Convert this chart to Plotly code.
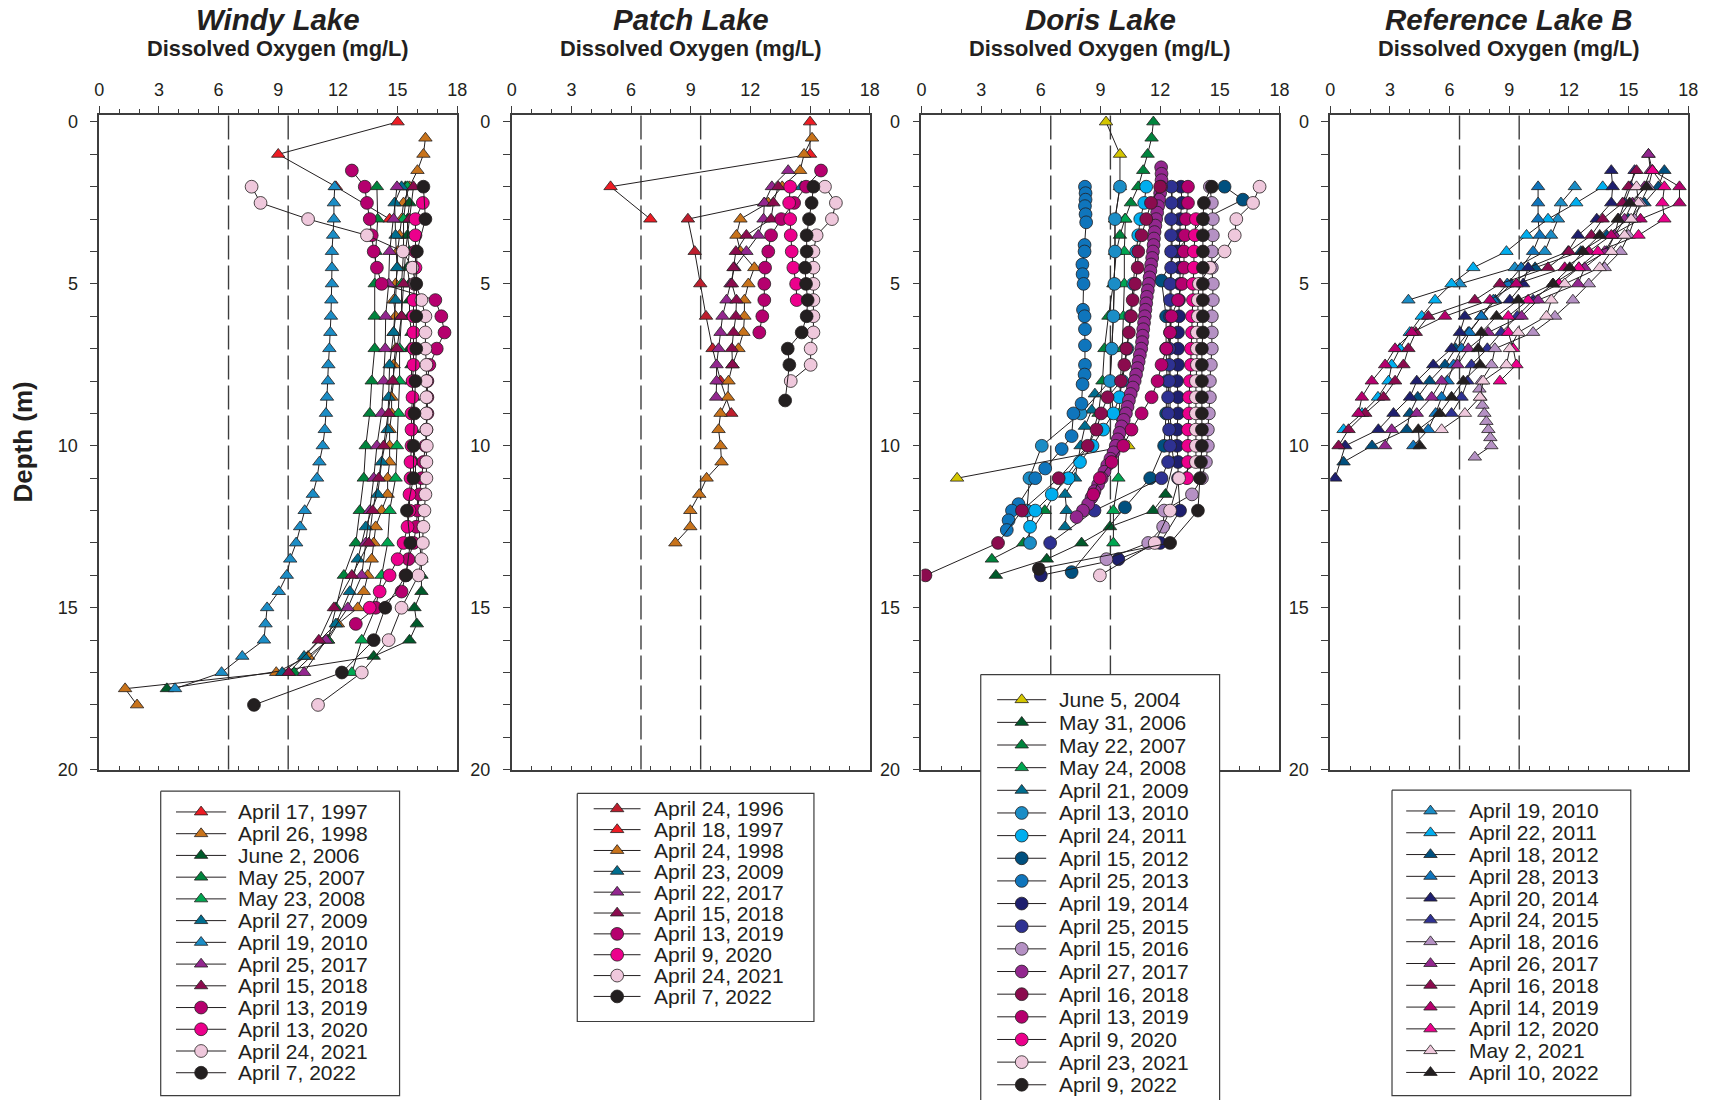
import plotly.graph_objects as go

# ----------------------------------------------------------------------
# Dissolved-oxygen winter profiles (depth in m, DO in mg/L)
# ----------------------------------------------------------------------

# ---------------- Windy Lake ----------------
windy_labels = ["April 17, 1997", "April 26, 1998", "June 2, 2006", "May 25, 2007",
                "May 23, 2008", "April 27, 2009", "April 19, 2010", "April 25, 2017",
                "April 15, 2018", "April 13, 2019", "April 13, 2020", "April 24, 2021",
                "April 7, 2022"]

windy_depth_1997 = [0, 1, 2, 3]
windy_do_1997 = [15.0, 9.0, 11.9, 14.6]

windy_depth_1998 = [0.5, 1, 1.5, 2, 2.5, 3, 3.5, 4, 4.5, 5, 5.5, 6, 6.5, 7, 7.5, 8, 8.5, 9,
                    9.5, 10, 10.5, 11, 11.5, 12, 12.5, 13, 13.5, 14, 14.5, 15, 15.5, 16,
                    16.5, 17, 17.5, 18]
windy_do_1998 = [16.4, 16.3, 16.0, 15.6, 15.3, 15.2, 15.1, 15.0, 15.0, 14.9, 14.8, 14.9,
                 14.8, 14.9, 14.8, 14.8, 14.7, 14.7, 14.6, 14.6, 14.6, 14.5, 14.5, 14.2,
                 13.9, 13.8, 13.7, 13.5, 13.3, 13.0, 12.0, 11.5, 10.5, 8.9, 1.3, 1.9]

windy_depth_2006 = [2, 2.5, 3, 3.5, 4, 4.5, 5, 5.5, 6, 6.5, 7, 7.5, 8, 8.5, 9, 9.5, 10,
                    10.5, 11, 11.5, 12, 12.5, 13, 13.5, 14, 14.5, 15, 15.5, 16, 16.5, 17.5]
windy_do_2006 = [15.4, 15.6, 15.5, 15.5, 15.6, 15.5, 15.6, 15.6, 15.6, 15.7, 15.6, 15.7,
                 15.7, 15.8, 15.8, 15.8, 15.8, 15.9, 15.9, 16.0, 16.0, 16.1, 16.1, 16.2,
                 16.2, 16.2, 15.85, 15.97, 15.6, 13.8, 3.4]

windy_depth_2007 = [2, 3, 4, 5, 6, 7, 8, 9, 10, 11, 12, 13, 14, 15, 16, 17]
windy_do_2007 = [13.96, 14.0, 13.9, 13.85, 13.85, 13.85, 13.7, 13.6, 13.4, 13.3, 13.1,
                 12.9, 12.3, 11.9, 11.5, 9.8]

windy_depth_2008 = [2, 3, 4, 5, 6, 7, 8, 9, 10, 11, 12, 13, 14, 15, 16, 17]
windy_do_2008 = [15.5, 15.3, 15.3, 15.2, 15.2, 15.1, 15.1, 15.05, 14.97, 14.9, 14.6, 14.5,
                 14.2, 13.9, 13.2, 12.7]

windy_depth_2009 = [2, 2.5, 3.5, 4.5, 5.5, 6.5, 7.5, 8.5, 9.5, 10.5, 11.5, 12.5, 13.5,
                    14.5, 15.5, 16.5, 17]
windy_do_2009 = [15.2, 14.85, 14.9, 14.97, 14.9, 14.8, 14.6, 14.55, 14.5, 14.2, 14.0, 13.4,
                 13.0, 12.6, 11.9, 10.3, 9.2]

windy_depth_2010 = [2, 2.5, 3, 3.5, 4, 4.5, 5, 5.5, 6, 6.5, 7, 7.5, 8, 8.5, 9, 9.5, 10,
                    10.5, 11, 11.5, 12, 12.5, 13, 13.5, 14, 14.5, 15, 15.5, 16, 16.5, 17,
                    17.5]
windy_do_2010 = [11.84, 11.8, 11.8, 11.76, 11.7, 11.7, 11.7, 11.67, 11.65, 11.62, 11.57,
                 11.52, 11.5, 11.45, 11.4, 11.34, 11.24, 11.07, 10.95, 10.74, 10.33, 10.1,
                 9.9, 9.6, 9.43, 9.03, 8.44, 8.36, 8.28, 7.19, 6.15, 3.81]

windy_depth_2017 = [2, 3, 4, 5, 6, 7, 8, 9, 10, 11, 12, 13, 14, 15, 16, 17]
windy_do_2017 = [14.97, 14.8, 14.6, 14.55, 14.4, 14.38, 14.3, 14.2, 13.96, 13.8, 13.6, 13.4,
                 13.2, 12.5, 11.4, 10.3]

windy_depth_2018 = [2, 3, 4, 5, 6, 7, 8, 9, 10, 11, 12, 13, 14, 15, 16, 17]
windy_do_2018 = [15.8, 15.6, 15.4, 15.3, 15.2, 14.97, 14.75, 14.55, 14.3, 14.05, 13.75,
                 13.55, 12.7, 11.8, 11.04, 9.53]

windy_depth_2019 = [1.5, 2, 2.5, 3, 3.5, 4, 4.5, 5, 5.5, 6, 6.5, 7, 7.5, 8, 8.5, 9, 9.5,
                    10, 10.5, 11, 11.5, 12, 12.5, 13, 13.5, 14, 14.5, 15, 15.5]
windy_do_2019 = [12.7, 13.35, 13.46, 13.6, 13.7, 13.8, 13.96, 14.2, 16.9, 17.2, 17.36,
                 16.97, 16.6, 16.5, 16.5, 16.5, 16.45, 16.4, 16.3, 16.2, 16.1, 16.0, 15.94,
                 15.8, 15.55, 15.4, 15.2, 13.9, 12.9]

windy_depth_2020 = [2.5, 3, 3.5, 4, 4.5, 5, 5.5, 6, 6.5, 7, 7.5, 8, 8.5, 9, 9.5, 10, 10.5,
                    11, 11.5, 12, 12.5, 13, 13.5, 14, 14.5, 15]
windy_do_2020 = [16.27, 15.9, 15.9, 15.9, 15.9, 15.85, 15.8, 15.8, 15.8, 15.8, 15.8, 15.75,
                 15.75, 15.7, 15.7, 15.7, 15.65, 15.65, 15.6, 15.6, 15.5, 15.3, 15.0, 14.6,
                 14.1, 13.6]

windy_depth_2021 = [2, 2.5, 3, 3.5, 4, 4.5, 5, 5.5, 6, 6.5, 7, 7.5, 8, 8.5, 9, 9.5, 10,
                    10.5, 11, 11.5, 12, 12.5, 13, 13.5, 14, 15, 16, 17, 18]
windy_do_2021 = [7.66, 8.11, 10.5, 13.46, 15.27, 15.75, 15.9, 16.2, 16.4, 16.4, 16.4,
                 16.45, 16.45, 16.45, 16.45, 16.45, 16.47, 16.45, 16.45, 16.4, 16.35, 16.3,
                 16.27, 16.2, 16.05, 15.2, 14.55, 13.2, 11.0]

windy_depth_2022 = [2, 3, 4, 5, 6, 7, 8, 9, 10, 11, 12, 13, 14, 15, 16, 17, 18]
windy_do_2022 = [16.3, 16.4, 15.97, 15.94, 15.94, 15.94, 15.9, 15.85, 15.8, 15.8, 15.47,
                 15.64, 15.43, 14.38, 13.8, 12.2, 7.78]

# ---------------- Patch Lake ----------------
patch_labels = ["April 24, 1996", "April 18, 1997", "April 24, 1998", "April 23, 2009",
                "April 22, 2017", "April 15, 2018", "April 13, 2019", "April 9, 2020",
                "April 24, 2021", "April 7, 2022"]

patch_depth_1996 = [2.5, 3, 4, 5, 6, 7, 8, 9]
patch_do_1996 = [12.7, 8.86, 9.2, 9.48, 9.77, 10.1, 10.5, 11.04]

patch_depth_1997 = [0, 1, 2, 3]
patch_do_1997 = [15.0, 15.0, 4.97, 6.97]

patch_depth_1998 = [0.5, 1, 1.5, 2, 2.5, 3, 3.5, 4, 4.5, 5, 5.5, 6, 6.5, 7, 7.5, 8, 8.5, 9,
                    9.5, 10, 10.5, 11, 11.5, 12, 12.5, 13]
patch_do_1998 = [15.1, 14.7, 14.5, 13.6, 12.9, 11.5, 11.3, 11.5, 12.2, 11.9, 11.7, 11.7,
                 11.65, 11.4, 11.1, 10.9, 10.87, 10.5, 10.4, 10.5, 10.55, 9.8, 9.43, 8.98,
                 8.98, 8.23]

patch_depth_2009 = [2]
patch_do_2009 = [14.58]

patch_depth_2017 = [1.5, 2, 2.5, 3, 3.5, 4, 4.5, 5, 5.5, 6, 6.5, 7, 7.5, 8, 8.5]
patch_do_2017 = [13.9, 13.08, 12.7, 12.66, 12.4, 11.8, 11.2, 11.0, 10.8, 10.6, 10.5, 10.4,
                 10.3, 10.3, 10.28]

patch_depth_2018 = [2, 2.5, 3, 3.5, 4, 4.5, 5, 5.5, 6, 6.5, 7, 7.5]
patch_do_2018 = [13.4, 13.16, 13.04, 11.8, 11.27, 11.15, 11.07, 11.3, 11.27, 11.15, 11.07,
                 11.1]

patch_depth_2019 = [1.5, 2, 2.5, 3, 3.5, 4, 4.5, 5, 5.5, 6, 6.5]
patch_do_2019 = [15.55, 14.8, 14.2, 13.55, 13.04, 12.9, 12.74, 12.7, 12.7, 12.6, 12.45]

patch_depth_2020 = [2, 2.5, 3, 3.5, 4, 4.5, 5, 5.5]
patch_do_2020 = [14.0, 13.95, 14.0, 14.03, 14.08, 14.16, 14.3, 14.33]

patch_depth_2021 = [2, 2.5, 3, 3.5, 4, 4.5, 5, 5.5, 6, 6.5, 7, 7.5, 8]
patch_do_2021 = [15.75, 16.3, 16.1, 15.33, 15.17, 15.17, 15.17, 15.17, 15.17, 15.17, 15.03,
                 15.03, 14.03]

patch_depth_2022 = [2, 2.5, 3, 3.5, 4, 4.5, 5, 5.5, 6, 6.5, 7, 7.5, 8.6]
patch_do_2022 = [15.17, 15.08, 14.95, 14.83, 14.83, 14.75, 14.8, 14.88, 14.83, 14.58, 13.88,
                 13.96, 13.75]

# ---------------- Doris Lake ----------------
doris_labels = ["June 5, 2004", "May 31, 2006", "May 22, 2007", "May 24, 2008",
                "April 21, 2009", "April 13, 2010", "April 24, 2011", "April 15, 2012",
                "April 25, 2013", "April 19, 2014", "April 25, 2015", "April 15, 2016",
                "April 27, 2017", "April 16, 2018", "April 13, 2019", "April 9, 2020",
                "April 23, 2021", "April 9, 2022"]

doris_depth_2004 = [0, 1, 2, 3, 4, 5, 6, 7, 8, 9, 10, 11]
doris_do_2004 = [9.28, 9.98, 9.98, 9.73, 9.73, 9.7, 9.65, 9.57, 9.48, 9.65, 10.4, 1.79]

doris_depth_2006 = [2, 3, 4, 5, 6, 7, 8, 9, 10, 10.5, 11.5, 12, 12.5, 13, 13.5, 14]
doris_do_2006 = [12.6, 12.6, 12.6, 12.55, 12.55, 12.5, 12.5, 12.5, 12.6, 12.67, 12.27,
                 11.65, 9.48, 8.05, 6.3, 3.74]

doris_depth_2007 = [0, 0.5, 1, 1.5, 2, 2.5, 3, 3.5, 4, 5, 6, 7, 8, 9, 10, 11, 12, 13, 13.5]
doris_do_2007 = [11.66, 11.57, 11.37, 11.15, 10.9, 10.53, 10.23, 9.98, 9.8, 9.65, 9.4, 9.2,
                 9.1, 8.9, 8.4, 7.2, 6.2, 5.13, 3.54]

doris_depth_2008 = [3, 4, 5, 6, 7, 8, 9, 10, 11, 12, 13]
doris_do_2008 = [10.25, 10.2, 10.2, 10.15, 10.1, 10.0, 9.95, 9.9, 9.9, 9.65, 9.65]

doris_depth_2009 = [8.4, 8.9, 9.4, 10, 11, 11.5, 12, 12.5]
doris_do_2009 = [8.72, 8.56, 8.22, 8.0, 7.72, 7.22, 7.3, 7.22]

doris_depth_2010 = [2, 3, 4, 5, 6, 7, 8, 9, 10, 11, 12, 13]
doris_do_2010 = [9.98, 9.73, 9.73, 9.7, 9.65, 9.57, 9.48, 8.0, 6.05, 5.43, 5.3, 5.46]

doris_depth_2011 = [2, 2.5, 3, 3.5, 4, 5, 6, 7, 8, 8.5, 9, 9.5, 10, 10.5, 11, 11.5, 12,
                    12.5]
doris_do_2011 = [11.3, 11.2, 11.0, 10.9, 10.8, 10.65, 10.5, 10.35, 10.1, 9.95, 9.65, 9.14,
                 8.6, 7.97, 7.39, 6.55, 5.72, 5.46]

doris_depth_2012 = [2, 2.4, 3, 4, 4.9, 6, 7, 8, 9, 10, 11, 11.9, 13.9]
doris_do_2012 = [15.24, 16.16, 14.2, 12.8, 12.07, 12.3, 12.3, 12.35, 12.3, 12.2, 11.5,
                 10.23, 7.55]

doris_depth_2013 = [2.0, 2.2, 2.4, 2.6, 2.85, 3.1, 3.8, 4.0, 4.4, 4.7, 5.0, 5.8, 6.0, 6.4,
                    6.9, 7.5, 7.8, 8.1, 8.7, 9.0, 9.7, 10.1, 10.7, 11.0, 11.8, 12.0, 12.3,
                    12.6]
doris_do_2013 = [8.22, 8.25, 8.25, 8.22, 8.25, 8.28, 8.2, 8.2, 8.09, 8.1, 8.15, 8.12, 8.2,
                 8.22, 8.22, 8.22, 8.2, 8.1, 8.05, 7.64, 7.55, 7.05, 6.22, 5.72, 4.88, 4.55,
                 4.38, 4.29]

doris_depth_2014 = [2, 2.5, 3, 3.5, 4, 4.5, 5, 5.5, 6, 6.5, 7, 7.5, 8, 8.5, 9, 9.5, 10,
                    10.5, 11, 12, 13, 13.5, 14]
doris_do_2014 = [13.05, 13.1, 13.0, 13.0, 12.95, 13.0, 13.0, 12.95, 12.95, 12.9, 12.9,
                 12.9, 12.85, 12.9, 12.9, 12.85, 12.85, 12.9, 12.9, 13.0, 12.0, 9.9, 6.0]

doris_depth_2015 = [2, 2.5, 3, 3.5, 4, 4.5, 5, 5.5, 6, 6.5, 7, 7.5, 8, 8.5, 9, 9.5, 10,
                    10.5, 11, 12, 13]
doris_do_2015 = [12.57, 12.57, 12.55, 12.55, 12.55, 12.55, 12.5, 12.5, 12.5, 12.5, 12.45,
                 12.45, 12.45, 12.4, 12.4, 12.45, 12.5, 12.4, 12.07, 8.7, 6.47]

doris_depth_2016 = [2, 2.5, 3, 3.5, 4, 4.5, 5, 5.5, 6, 6.5, 7, 7.5, 8, 8.5, 9, 9.5, 10,
                    10.5, 11, 11.5, 12, 12.5, 13, 13.5]
doris_do_2016 = [14.5, 14.6, 14.65, 14.65, 14.6, 14.6, 14.65, 14.65, 14.6, 14.6, 14.6,
                 14.55, 14.5, 14.5, 14.45, 14.4, 14.4, 14.3, 14.1, 13.6, 12.2, 12.15, 11.4,
                 9.3]

doris_depth_2017 = [1.4, 1.6, 1.8, 2.0, 2.2, 2.4, 2.6, 2.8, 3.0, 3.2, 3.4, 3.6, 3.8, 4.0,
                    4.2, 4.4, 4.6, 4.8, 5.0, 5.2, 5.4, 5.6, 5.8, 6.0, 6.2, 6.4, 6.6, 6.8,
                    7.0, 7.2, 7.4, 7.6, 7.8, 8.0, 8.2, 8.4, 8.6, 8.8, 9.0, 9.2, 9.4, 9.6,
                    9.8, 10.0, 10.2, 10.4, 10.6, 10.8, 11.0, 11.2, 11.4, 11.6, 11.8, 12.0,
                    12.2]
doris_do_2017 = [12.05, 12.07, 12.07, 12.05, 12.0, 11.95, 11.9, 11.85, 11.8, 11.76, 11.72,
                 11.69, 11.67, 11.64, 11.6, 11.55, 11.51, 11.47, 11.43, 11.38, 11.33, 11.3,
                 11.26, 11.23, 11.19, 11.15, 11.12, 11.09, 11.05, 10.98, 10.92, 10.86,
                 10.79, 10.72, 10.63, 10.52, 10.43, 10.36, 10.28, 10.17, 10.06, 9.96, 9.87,
                 9.77, 9.66, 9.5, 9.34, 9.2, 9.06, 8.88, 8.7, 8.55, 8.38, 8.12, 7.8]

doris_depth_2018 = [2, 2.5, 3, 3.5, 4, 4.5, 5, 5.5, 6, 6.5, 7, 7.5, 8, 8.5, 9, 9.5, 10,
                    11, 12, 13, 14]
doris_do_2018 = [12.0, 11.54, 11.3, 11.07, 10.9, 10.87, 10.74, 10.62, 10.54, 10.43, 10.3,
                 10.2, 10.03, 9.36, 9.03, 8.8, 8.36, 6.9, 5.05, 3.85, 0.2]

doris_depth_2019 = [2, 2.5, 3, 3.5, 4, 4.5, 5, 5.5, 6, 6.5, 7, 7.5, 8, 8.5, 9, 9.5, 10,
                    10.5, 11, 11.5]
doris_do_2019 = [13.4, 13.4, 13.3, 13.25, 13.2, 13.2, 13.1, 12.9, 12.57, 12.5, 12.32,
                 12.07, 11.87, 11.57, 11.07, 10.56, 10.15, 9.56, 8.97, 8.64]

doris_depth_2020 = [3, 3.5, 4, 4.5, 5, 5.5, 6, 6.5, 7, 7.5, 8, 8.5, 9, 9.5, 10, 10.5, 11]
doris_do_2020 = [13.8, 13.75, 13.7, 13.7, 13.65, 13.65, 13.6, 13.6, 13.55, 13.55, 13.5,
                 13.45, 13.45, 13.4, 13.4, 13.4, 13.35]

doris_depth_2021 = [2, 2.5, 3, 3.5, 4, 4.5, 5, 5.5, 6, 6.5, 7, 7.5, 8, 8.5, 9, 9.5, 10,
                    10.5, 11, 12, 13, 14]
doris_do_2021 = [17.0, 16.67, 15.83, 15.75, 15.24, 14.5, 13.95, 13.9, 13.9, 13.85, 13.85,
                 13.85, 13.8, 13.8, 13.8, 13.8, 13.8, 13.8, 12.95, 12.5, 11.73, 8.97]

doris_depth_2022 = [2, 2.5, 3, 3.5, 4, 4.5, 5, 5.5, 6, 6.5, 7, 7.5, 8, 8.5, 9, 9.5, 10,
                    10.5, 11, 12, 13, 13.8]
doris_do_2022 = [14.6, 14.2, 14.15, 14.15, 14.15, 14.15, 14.15, 14.15, 14.15, 14.15, 14.1,
                 14.1, 14.1, 14.1, 14.1, 14.1, 14.1, 14.05, 14.0, 13.9, 12.5, 5.9]

# ---------------- Reference Lake B ----------------
refb_labels = ["April 19, 2010", "April 22, 2011", "April 18, 2012", "April 28, 2013",
               "April 20, 2014", "April 24, 2015", "April 18, 2016", "April 26, 2017",
               "April 16, 2018", "April 14, 2019", "April 12, 2020", "May 2, 2021",
               "April 10, 2022"]

refb_depth_2010 = [2, 2.5, 3, 3.5, 4, 4.5, 5, 5.5]
refb_do_2010 = [12.3, 11.6, 11.45, 11.1, 10.79, 9.28, 6.52, 3.93]

refb_depth_2011 = [2, 2.5, 3, 3.5, 4, 4.5, 5, 5.5, 6, 6.5, 7, 7.5, 8, 8.5, 9, 9.5]
refb_do_2011 = [13.7, 12.37, 10.95, 9.87, 8.86, 7.19, 6.1, 5.27, 4.6, 4.0, 3.5, 3.09, 2.93,
                2.4, 1.6, 0.67]

refb_depth_2012 = [1.5, 2, 2.5, 3, 3.5, 4, 4.5, 5, 5.5, 6, 6.5, 7, 7.5, 8, 8.5, 9, 9.5, 10,
                   10.5]
refb_do_2012 = [16.8, 16.5, 15.8, 15.0, 13.9, 12.6, 10.3, 9.1, 8.3, 7.6, 6.94, 6.3, 5.77,
                5.0, 4.4, 4.0, 3.85, 2.1, 0.67]

refb_depth_2013 = [2, 2.5, 3, 3.5, 4, 4.5, 5, 5.5, 6, 6.5, 7, 7.5, 8, 8.5, 9, 9.5, 10]
refb_do_2013 = [10.45, 10.45, 10.45, 10.53, 10.2, 9.6, 8.9, 8.2, 7.6, 7.0, 6.6, 6.2, 5.9,
                5.6, 5.3, 4.93, 4.18]

refb_depth_2014 = [1.5, 2, 2.5, 3, 3.5, 4, 4.5, 5, 5.5, 6, 6.5, 7, 7.5, 8, 8.5, 9, 9.5, 10,
                   11]
refb_do_2014 = [14.13, 14.2, 14.13, 13.4, 12.46, 11.96, 9.95, 9.7, 9.03, 6.77, 6.52, 6.1,
                5.18, 4.35, 4.01, 3.18, 2.42, 0.75, 0.25]

refb_depth_2015 = [1.5, 2, 2.5, 3, 3.5, 4, 4.5, 5, 5.5, 6, 6.5, 7, 7.5, 8, 8.5, 9]
refb_do_2015 = [15.3, 15.1, 14.8, 14.5, 14.3, 13.9, 12.5, 11.2, 10.2, 9.4, 8.6, 7.9, 7.1,
                6.9, 6.6, 6.1]

refb_depth_2016 = [1, 1.5, 2, 2.5, 3, 3.5, 4, 4.5, 5, 5.5, 6, 6.5, 7, 7.5, 8, 8.25, 8.5,
                   8.75, 9, 9.25, 9.5, 9.75, 10, 10.35]
refb_do_2016 = [16.0, 16.2, 16.0, 15.6, 15.3, 15.0, 14.6, 13.8, 13.0, 12.2, 11.3, 10.2,
                8.28, 8.11, 7.6, 7.5, 7.55, 7.65, 7.75, 7.85, 7.95, 8.05, 8.1, 7.27]

refb_depth_2017 = [1, 1.5, 2, 2.5, 3, 3.5, 4, 4.5, 5, 5.5, 6, 6.5, 7, 7.5, 8, 8.5, 9, 9.5,
                   10]
refb_do_2017 = [16.0, 16.1, 15.8, 15.2, 14.8, 14.3, 13.8, 12.79, 12.46, 10.45, 9.62, 7.94,
                6.94, 6.4, 5.6, 5.1, 4.35, 3.09, 2.76]

refb_depth_2018 = [1.5, 2, 2.5, 3, 3.5, 4, 4.5, 5, 5.5, 6, 6.5, 7, 7.5, 8, 8.5, 9, 9.5, 10]
refb_do_2018 = [15.4, 15.0, 14.7, 13.7, 13.13, 12.0, 10.95, 8.53, 7.27, 4.93, 4.3, 3.93,
                3.68, 3.26, 2.68, 1.76, 0.92, 0.42]

refb_depth_2019 = [1.5, 2, 2.5, 3, 3.5, 4, 4.5, 5, 5.5, 6, 6.5, 7, 7.5, 8, 8.5, 9]
refb_do_2019 = [16.2, 17.56, 17.56, 15.6, 14.13, 13.0, 11.79, 9.36, 8.03, 5.77, 4.1, 3.26,
                2.76, 2.09, 1.59, 1.42]

refb_depth_2020 = [1.5, 2, 2.5, 3, 3.5, 4, 4.5, 5, 5.5, 6, 6.5, 7, 7.5, 8]
refb_do_2020 = [16.2, 16.8, 16.7, 16.8, 15.5, 13.46, 12.5, 11.5, 9.95, 8.95, 8.95, 9.2,
                9.36, 8.53]

refb_depth_2021 = [2, 2.5, 3, 3.5, 4, 4.5, 5, 5.5, 6, 6.5, 7, 7.5, 8, 8.5, 9, 9.5]
refb_do_2021 = [15.4, 15.5, 15.13, 14.8, 14.13, 13.55, 11.79, 11.12, 10.87, 9.45, 9.03,
                8.86, 7.69, 7.53, 6.77, 5.6]

refb_depth_2022 = [2, 2.5, 3, 3.5, 4, 4.5, 5, 5.5, 6, 6.5, 7, 7.5, 8, 8.5, 9, 9.5, 10]
refb_do_2022 = [15.9, 15.05, 14.46, 13.55, 12.7, 12.04, 11.2, 9.45, 8.36, 7.6, 7.44, 7.53,
                6.69, 6.1, 5.5, 4.43, 4.5]

# Water-quality guideline values drawn as dashed reference lines (mg/L)
do_guidelines = [6.5, 9.5]

# Axis ticks
x_ticks = [0, 3, 6, 9, 12, 15, 18]
y_ticks = [0, 5, 10, 15, 20]

# ----------------------------------------------------------------------
# Styling
# ----------------------------------------------------------------------
W, H = 1711, 1110
FONT = "Liberation Sans, Arial, Helvetica, sans-serif"
INK = "#231f20"
AXIS = "#3d3d3d"
TRI, DOT = "triangle-up", "circle"
MSIZE = {TRI: 11.7, DOT: 12.8}

COL = {
    "red96": "#be1e2d", "red97": "#ed1c24", "orange": "#c8731b", "yellow": "#d4c600",
    "dgreen": "#005a2b", "green": "#00843d", "lgreen": "#00a651", "teal": "#006e8f",
    "blue10": "#1b8dc6", "cyan": "#00aeef", "dblue": "#00507f", "blue13": "#0f75bc",
    "navy14": "#1e1f6e", "navy15": "#2e3192", "lav": "#b591c4", "purple": "#93278f",
    "maroon": "#8b0b4e", "magenta": "#b5006e", "pink": "#ec008c", "lpink": "#efc8dc",
    "black": "#231f20",
}

windy_style = [("red97", TRI), ("orange", TRI), ("dgreen", TRI), ("green", TRI),
               ("lgreen", TRI), ("teal", TRI), ("blue10", TRI), ("purple", TRI),
               ("maroon", TRI), ("magenta", DOT), ("pink", DOT), ("lpink", DOT),
               ("black", DOT)]
patch_style = [("red96", TRI), ("red97", TRI), ("orange", TRI), ("teal", TRI),
               ("purple", TRI), ("maroon", TRI), ("magenta", DOT), ("pink", DOT),
               ("lpink", DOT), ("black", DOT)]
doris_style = [("yellow", TRI), ("dgreen", TRI), ("green", TRI), ("lgreen", TRI),
               ("teal", TRI), ("blue10", DOT), ("cyan", DOT), ("dblue", DOT),
               ("blue13", DOT), ("navy14", DOT), ("navy15", DOT), ("lav", DOT),
               ("purple", DOT), ("maroon", DOT), ("magenta", DOT), ("pink", DOT),
               ("lpink", DOT), ("black", DOT)]
refb_style = [("blue10", TRI), ("cyan", TRI), ("dblue", TRI), ("blue13", TRI),
              ("navy14", TRI), ("navy15", TRI), ("lav", TRI), ("purple", TRI),
              ("maroon", TRI), ("magenta", TRI), ("pink", TRI), ("lpink", TRI),
              ("black", TRI)]

windy_profiles = [(windy_depth_1997, windy_do_1997), (windy_depth_1998, windy_do_1998),
                  (windy_depth_2006, windy_do_2006), (windy_depth_2007, windy_do_2007),
                  (windy_depth_2008, windy_do_2008), (windy_depth_2009, windy_do_2009),
                  (windy_depth_2010, windy_do_2010), (windy_depth_2017, windy_do_2017),
                  (windy_depth_2018, windy_do_2018), (windy_depth_2019, windy_do_2019),
                  (windy_depth_2020, windy_do_2020), (windy_depth_2021, windy_do_2021),
                  (windy_depth_2022, windy_do_2022)]
patch_profiles = [(patch_depth_1996, patch_do_1996), (patch_depth_1997, patch_do_1997),
                  (patch_depth_1998, patch_do_1998), (patch_depth_2009, patch_do_2009),
                  (patch_depth_2017, patch_do_2017), (patch_depth_2018, patch_do_2018),
                  (patch_depth_2019, patch_do_2019), (patch_depth_2020, patch_do_2020),
                  (patch_depth_2021, patch_do_2021), (patch_depth_2022, patch_do_2022)]
doris_profiles = [(doris_depth_2004, doris_do_2004), (doris_depth_2006, doris_do_2006),
                  (doris_depth_2007, doris_do_2007), (doris_depth_2008, doris_do_2008),
                  (doris_depth_2009, doris_do_2009), (doris_depth_2010, doris_do_2010),
                  (doris_depth_2011, doris_do_2011), (doris_depth_2012, doris_do_2012),
                  (doris_depth_2013, doris_do_2013), (doris_depth_2014, doris_do_2014),
                  (doris_depth_2015, doris_do_2015), (doris_depth_2016, doris_do_2016),
                  (doris_depth_2017, doris_do_2017), (doris_depth_2018, doris_do_2018),
                  (doris_depth_2019, doris_do_2019), (doris_depth_2020, doris_do_2020),
                  (doris_depth_2021, doris_do_2021), (doris_depth_2022, doris_do_2022)]
refb_profiles = [(refb_depth_2010, refb_do_2010), (refb_depth_2011, refb_do_2011),
                 (refb_depth_2012, refb_do_2012), (refb_depth_2013, refb_do_2013),
                 (refb_depth_2014, refb_do_2014), (refb_depth_2015, refb_do_2015),
                 (refb_depth_2016, refb_do_2016), (refb_depth_2017, refb_do_2017),
                 (refb_depth_2018, refb_do_2018), (refb_depth_2019, refb_do_2019),
                 (refb_depth_2020, refb_do_2020), (refb_depth_2021, refb_do_2021),
                 (refb_depth_2022, refb_do_2022)]

# Page layout in screen pixels.  The page is captured slightly scaled, so
# positions are mapped through a small affine correction before use.
SX, OX = 0.9918, 5.7
SY, OY = 0.9887, 2.5


def fig_x(t):
    return (t - OX) / SX


def fig_y(t):
    return (t - OY) / SY


def paper_x(t):
    return fig_x(t) / W


def paper_y(t):
    return 1 - fig_y(t) / H


PANEL_LEFT = [100, 512.7, 922.7, 1331.7]
PANEL_W = 358.2
PLOT_TOP, PLOT_BOTTOM = 115, 769.5

lakes = [
    dict(title="Windy Lake", labels=windy_labels, profiles=windy_profiles, style=windy_style,
         box=(161.5, 791, 400.5, 1095.6), row0=811.8, step=21.74,
         seg=(176.8, 227.0), mark=201.9, text=236.5),
    dict(title="Patch Lake", labels=patch_labels, profiles=patch_profiles, style=patch_style,
         box=(578.3, 793.3, 815.1, 1021.4), row0=808.6, step=20.86,
         seg=(594.7, 641.6), mark=618.2, text=653.3),
    dict(title="Doris Lake", labels=doris_labels, profiles=doris_profiles, style=doris_style,
         box=(982.0, 674.4, 1221.0, 1125.0), row0=699.5, step=22.66,
         seg=(998.4, 1047.5), mark=1023.0, text=1058.2),
    dict(title="Reference Lake B", labels=refb_labels, profiles=refb_profiles,
         style=refb_style, box=(1393.5, 790.0, 1632.4, 1095.6), row0=810.8, step=21.8,
         seg=(1407.7, 1456.8), mark=1432.0, text=1468.5),
]

fig = go.Figure()
annotations = []
shapes = []
layout_axes = {}

for i, lake in enumerate(lakes):
    n = i + 1
    sfx = "" if n == 1 else str(n)
    xa, ya = "x" + sfx, "y" + sfx
    left = PANEL_LEFT[i]

    # profiles
    for label, (depth, do), (ckey, sym) in zip(lake["labels"], lake["profiles"], lake["style"]):
        fig.add_trace(go.Scatter(
            x=do, y=depth, xaxis=xa, yaxis=ya, mode="lines+markers", name=label,
            line=dict(color=INK, width=1),
            marker=dict(symbol=sym, size=MSIZE[sym], color=COL[ckey], opacity=1,
                        line=dict(color=INK, width=0.8)),
            showlegend=False, hoverinfo="x+y+name"))

    # inward minor ticks along the bottom edge
    fig.add_trace(go.Scatter(x=[None], y=[None], xaxis="x" + str(n + 4), yaxis=ya,
                             showlegend=False, hoverinfo="skip"))

    # dashed guideline lines
    for g in do_guidelines:
        shapes.append(dict(type="line", xref=xa, yref=ya + " domain", x0=g, x1=g, y0=1, y1=0,
                           line=dict(color=AXIS, width=1.4, dash="24px,6px"), layer="below"))

    dom_x = [paper_x(left), paper_x(left + PANEL_W)]
    dom_y = [paper_y(PLOT_BOTTOM), paper_y(PLOT_TOP)]
    layout_axes["xaxis" + sfx] = dict(
        domain=dom_x, range=[0, 18], side="top", anchor=ya, tickmode="array",
        tickvals=x_ticks, ticks="outside", ticklen=8, tickwidth=1.2, tickcolor=AXIS,
        minor=dict(tick0=0, dtick=1, ticks="outside", ticklen=5, tickwidth=1, tickcolor=AXIS),
        showline=True, linecolor=AXIS, linewidth=1.5, mirror=True, showgrid=False,
        zeroline=False, tickfont=dict(family=FONT, size=18, color=INK),
        ticklabelstandoff=3, fixedrange=True)
    layout_axes["xaxis" + str(n + 4)] = dict(
        overlaying=xa, anchor=ya, side="bottom", range=[0, 18], tick0=0, dtick=1,
        ticks="inside", ticklen=4, tickwidth=1, tickcolor=AXIS, showticklabels=False,
        showline=False, showgrid=False, zeroline=False, fixedrange=True)
    layout_axes["yaxis" + sfx] = dict(
        domain=dom_y, range=[20, -0.2], anchor=xa, tickmode="array", tickvals=y_ticks,
        ticks="outside", ticklen=7, tickwidth=1.2, tickcolor=AXIS,
        minor=dict(tick0=0, dtick=1, ticks="outside", ticklen=7, tickwidth=1, tickcolor=AXIS),
        showline=True, linecolor=AXIS, linewidth=1.5, mirror=True, showgrid=False,
        zeroline=False, tickfont=dict(family=FONT, size=18, color=INK),
        ticklabelstandoff=9, fixedrange=True)

    # lake title and axis title
    cx = paper_x(left + PANEL_W / 2)
    annotations.append(dict(text="<b><i>%s</i></b>" % lake["title"], x=cx, y=paper_y(19),
                            xref="paper", yref="paper", xanchor="center", yanchor="middle",
                            showarrow=False, font=dict(family=FONT, size=29.5, color=INK)))
    annotations.append(dict(text="<b>Dissolved Oxygen (mg/L)</b>", x=cx, y=paper_y(48.5),
                            xref="paper", yref="paper", xanchor="center", yanchor="middle",
                            showarrow=False, font=dict(family=FONT, size=21.8, color=INK)))

    # legend: white box, sample line + marker, and date text
    bx0, by0, bx1, by1 = lake["box"]
    fig.add_trace(go.Scatter(x=[bx0, bx1, bx1, bx0, bx0], y=[by0, by0, by1, by1, by0],
                             xaxis="x9", yaxis="y9", mode="lines", fill="toself",
                             fillcolor="white", line=dict(color=AXIS, width=1.2),
                             showlegend=False, hoverinfo="skip"))
    seg_x, seg_y = [], []
    mk_x, mk_y, mk_c, mk_s, mk_z = [], [], [], [], []
    for k, (label, (ckey, sym)) in enumerate(zip(lake["labels"], lake["style"])):
        yy = lake["row0"] + k * lake["step"]
        seg_x += [lake["seg"][0], lake["seg"][1], None]
        seg_y += [yy, yy, None]
        mk_x.append(lake["mark"])
        mk_y.append(yy)
        mk_c.append(COL[ckey])
        mk_s.append(sym)
        mk_z.append(MSIZE[sym])
        annotations.append(dict(text=label, x=paper_x(lake["text"]), y=paper_y(yy),
                                xref="paper", yref="paper", xanchor="left",
                                yanchor="middle", showarrow=False,
                                font=dict(family=FONT, size=21, color=INK)))
    fig.add_trace(go.Scatter(x=seg_x, y=seg_y, xaxis="x9", yaxis="y9", mode="lines",
                             line=dict(color=INK, width=1), showlegend=False,
                             hoverinfo="skip"))
    fig.add_trace(go.Scatter(x=mk_x, y=mk_y, xaxis="x9", yaxis="y9", mode="markers",
                             marker=dict(symbol=mk_s, size=mk_z, color=mk_c, opacity=1,
                                         line=dict(color=INK, width=0.8)),
                             showlegend=False, hoverinfo="skip"))

# screen-pixel overlay used for the legend boxes
layout_axes["xaxis9"] = dict(domain=[0, 1], range=[OX, OX + SX * W], visible=False,
                             anchor="y9", fixedrange=True)
layout_axes["yaxis9"] = dict(domain=[0, 1], range=[OY + SY * H, OY], visible=False,
                             anchor="x9", fixedrange=True)

annotations.append(dict(text="<b>Depth (m)</b>", x=paper_x(24), y=paper_y(442),
                        xref="paper", yref="paper", xanchor="center", yanchor="middle",
                        textangle=-90, showarrow=False,
                        font=dict(family=FONT, size=26, color=INK)))

fig.update_layout(
    width=W, height=H, margin=dict(l=0, r=0, t=0, b=0),
    paper_bgcolor="white", plot_bgcolor="rgba(0,0,0,0)", showlegend=False,
    font=dict(family=FONT, color=INK), annotations=annotations, shapes=shapes,
    **layout_axes)

fig.write_html("out.html")
